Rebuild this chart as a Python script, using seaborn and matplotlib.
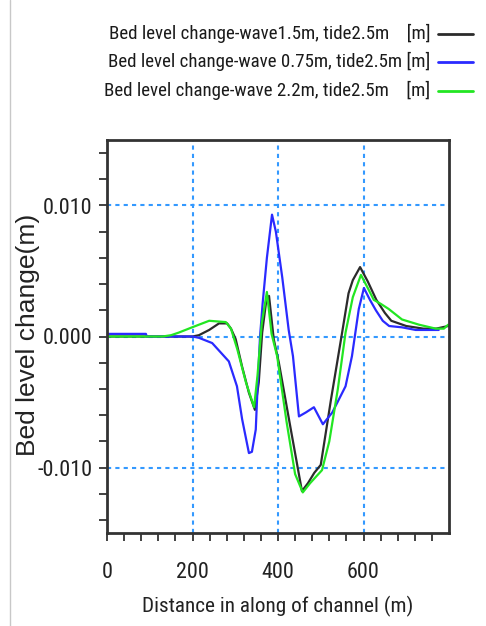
import os
import matplotlib
matplotlib.use("Agg")
import matplotlib.pyplot as plt
from matplotlib import font_manager
from matplotlib.font_manager import FontProperties
from matplotlib.lines import Line2D
from matplotlib.ticker import FixedLocator
import pandas as pd
import seaborn as sns

# Bed level change along the channel for three wave heights (tide 2.5 m)
x_wave15 = [0, 150, 200, 215, 239, 262, 281, 290, 301, 316, 332, 346, 355, 363, 372, 379,
            390, 402, 430, 456, 470, 485, 500, 524, 550, 565, 575, 592, 610, 630, 650, 665,
            700, 740, 770, 798]
y_wave15 = [0.0, 0.0, 0.0, 0.0001, 0.0005, 0.0010, 0.0010, 0.0006, -0.0002, -0.0023,
            -0.0043, -0.0056, -0.0035, 0.0003, 0.0026, 0.0031, -0.0002, -0.0020, -0.0071,
            -0.0118, -0.0112, -0.0104, -0.0098, -0.0048, 0.0003, 0.0033, 0.0043, 0.0053,
            0.0042, 0.0028, 0.0018, 0.0012, 0.0008, 0.0006, 0.0006, 0.0008]

x_wave075 = [0, 91, 93, 200, 215, 246, 285, 304, 316, 332, 339, 348, 352, 358, 364, 374,
             386, 395, 410, 425, 435, 449, 465, 484, 505, 527, 558, 573, 589, 601, 615, 629,
             645, 660, 690, 722, 776]
y_wave075 = [0.0002, 0.0002, 0.0, 0.0, -0.0001, -0.0005, -0.0019, -0.0038, -0.0063,
             -0.0089, -0.0088, -0.0071, -0.0040, 0.0, 0.0025, 0.0060, 0.0093, 0.0080,
             0.0045, 0.0005, -0.0015, -0.0061, -0.0058, -0.0054, -0.0067, -0.0058,
             -0.0038, -0.0015, 0.0021, 0.0037, 0.0028, 0.0020, 0.0012, 0.0008, 0.0007,
             0.0005, 0.0005]

x_wave22 = [0, 130, 150, 168, 199, 239, 278, 290, 305, 325, 344, 352, 362, 374, 385, 398,
            420, 440, 458, 475, 503, 520, 540, 558, 575, 594, 610, 624, 640, 659, 690, 730,
            769, 788, 798]
y_wave22 = [0.0, 0.0, 0.0001, 0.0003, 0.0007, 0.0012, 0.0011, 0.0006, -0.0010, -0.0035,
            -0.0054, -0.0030, 0.0010, 0.0034, 0.0002, -0.0015, -0.0065, -0.0105, -0.0119,
            -0.0112, -0.0102, -0.0080, -0.0040, 0.0003, 0.0030, 0.0047, 0.0037, 0.0028,
            0.0025, 0.0021, 0.0013, 0.0009, 0.0006, 0.0006, 0.0009]

series_names = ["Bed level change-wave1.5m, tide2.5m    [m]",
                "Bed level change-wave 0.75m, tide2.5m [m]",
                "Bed level change-wave 2.2m, tide2.5m    [m]"]
series_colors = ["#2b2b2b", "#2a2aff", "#22e622"]

x_ticks = [0, 200, 400, 600]
y_ticks = [-0.010, 0.0, 0.010]
y_tick_labels = ["-0.010", "0.000", "0.010"]

frames = []
for name, xs, ys in zip(series_names,
                        [x_wave15, x_wave075, x_wave22],
                        [y_wave15, y_wave075, y_wave22]):
    frames.append(pd.DataFrame({"distance": xs, "change": ys, "series": name}))
data = pd.concat(frames, ignore_index=True)

sns.set_style("ticks")
plt.rcParams["font.family"] = ["Liberation Sans", "DejaVu Sans"]


def pick_narrow_font():
    """Return FontProperties for a regular condensed sans face, if one exists."""
    prefs = ["liberationsansnarrow-regular", "robotocondensed-regular",
             "opensans_condensed-regular", "opensanscondensed", "dejavusanscondensed.",
             "notosans-condensed.", "notosanscondensed"]
    files = [f.fname for f in font_manager.fontManager.ttflist]
    for key in prefs:
        for path in files:
            if os.path.basename(path).lower().replace(" ", "").startswith(key):
                return FontProperties(fname=path)
    for f in font_manager.fontManager.ttflist:
        base = os.path.basename(f.fname).lower()
        if ("narrow" in base or "condensed" in base) and f.style == "normal" \
                and f.weight in (400, "normal", "regular") and "mono" not in base \
                and "serif" not in base.replace("sans", ""):
            return FontProperties(fname=f.fname)
    return FontProperties(family="DejaVu Sans", stretch="condensed")


narrow_fp = pick_narrow_font()

fig = plt.figure(figsize=(4.86, 6.26), dpi=100)
renderer = fig.canvas.get_renderer()


def size_for_width(text, target_px, fp, ref_size=10.0):
    probe = fig.text(0, 0, text, fontproperties=fp, fontsize=ref_size)
    bb = probe.get_window_extent(renderer)
    probe.remove()
    return ref_size * target_px / bb.width, bb.height / ref_size


ax = fig.add_axes([107 / 486, 1 - 533 / 626, (449 - 107) / 486, (533 - 140) / 626])

sns.lineplot(data=data, x="distance", y="change", hue="series",
             hue_order=series_names, palette=series_colors,
             estimator=None, sort=False, linewidth=1.6, ax=ax, legend=False)

ax.set_xlim(0, 800)
ax.set_ylim(-0.015, 0.015)
ax.set_xticks(x_ticks)
ax.set_xticklabels([str(v) for v in x_ticks])
ax.xaxis.set_minor_locator(FixedLocator([v for v in range(40, 800, 40) if v % 200]))
ax.set_yticks(y_ticks)
ax.set_yticklabels(y_tick_labels)
ax.yaxis.set_minor_locator(FixedLocator([-0.014, -0.012, -0.008, -0.006, -0.004, -0.002,
                                         0.002, 0.004, 0.006, 0.008, 0.012, 0.014]))
ax.set_xlabel("")
ax.set_ylabel("")

ax.grid(which="major", color="#3399ff", linestyle=(0, (2, 2)), linewidth=1.5)
for side in ["left", "right", "top", "bottom"]:
    ax.spines[side].set_visible(True)
    ax.spines[side].set_linewidth(2.0)
    ax.spines[side].set_color("#333333")

# tick labels in the condensed face, sized so "0.010" spans about 48 px
tick_size, tick_h = size_for_width("0.010", 49, narrow_fp)
ax.tick_params(which="both", direction="out", length=6, width=1.3, color="#333333")
x_pad_px = 571 - 0.5 * tick_h * tick_size - 539
ax.tick_params(axis="x", which="major", pad=x_pad_px * 0.72, labelcolor="#222222")
ax.tick_params(axis="y", which="major", pad=6 * 0.72, labelcolor="#222222")
for lab in ax.get_xticklabels() + ax.get_yticklabels():
    lab.set_fontproperties(narrow_fp)
    lab.set_fontsize(tick_size)

# legend above the axes, labels left of their line samples
leg_size, leg_h = size_for_width(series_names[1], 320, narrow_fp)
leg_px = leg_size * 100 / 72
row_h = leg_h * leg_size
handles = [Line2D([], [], color=c, linewidth=2.0) for c in series_colors]
fig.legend(handles, series_names, loc="upper right",
           bbox_to_anchor=(473 / 486, 1 - (34 - row_h / 2) / 626), frameon=False,
           markerfirst=False, prop=narrow_fp.copy(), fontsize=leg_size,
           handlelength=48 / leg_px, handletextpad=10 / leg_px,
           labelspacing=(max(29.5 - row_h, 0) + 3.5) / leg_px,
           borderaxespad=0, borderpad=0)
for t in fig.legends[0].get_texts():
    t.set_fontproperties(narrow_fp)
    t.set_fontsize(leg_size)
    t.set_color("#1a1a1a")

ylab_fp = FontProperties(family=["Liberation Sans", "DejaVu Sans"], size=19)
fig.text(28 / 486, 1 - 335 / 626, "Bed level change(m)", rotation=90,
         ha="center", va="center", fontproperties=ylab_fp, color="#222222")

xlab_size, _ = size_for_width("Distance in along of channel (m)", 270, narrow_fp)
fig.text(278 / 486, 1 - 606 / 626, "Distance in along of channel (m)",
         ha="center", va="center", fontproperties=narrow_fp, fontsize=xlab_size,
         color="#222222")

fig.add_artist(Line2D([10 / 486, 10 / 486], [0, 1], color="#c8c8c8", linewidth=1,
                      transform=fig.transFigure))

fig.savefig("out.png", dpi=100)
